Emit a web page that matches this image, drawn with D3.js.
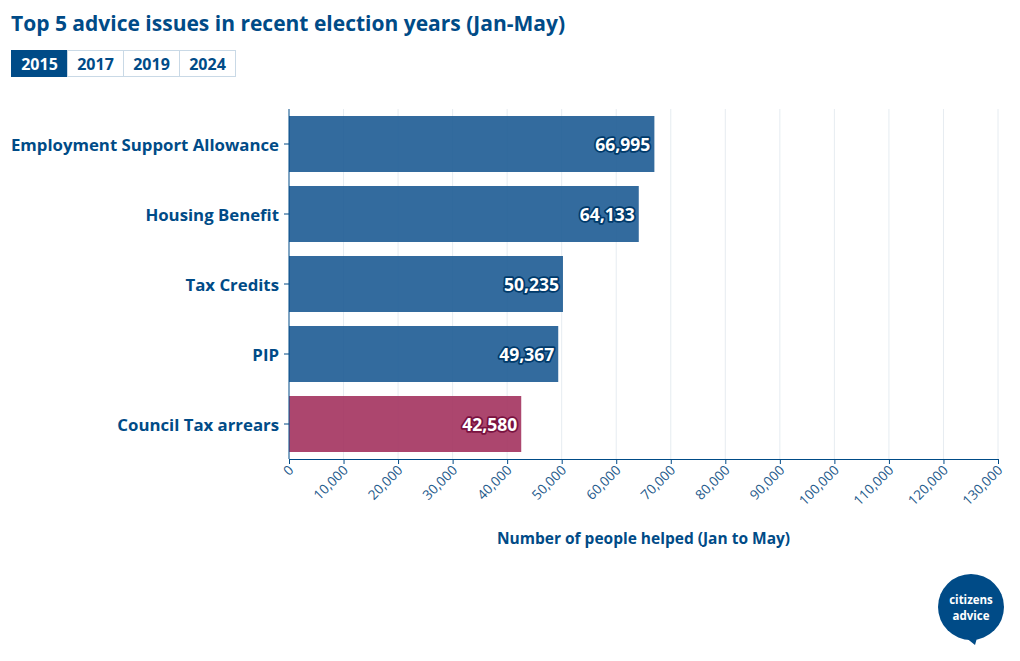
<!DOCTYPE html>
<html><head><meta charset="utf-8">
<script src="https://cdn.jsdelivr.net/npm/d3@7"></script>
<style>
body{margin:0;background:#fff;font-family:"Open Sans",sans-serif;}
</style></head>
<body><svg id="c" width="1020" height="661"></svg>
<script>
const categories = ["Employment Support Allowance","Housing Benefit","Tax Credits","PIP","Council Tax arrears"];
const values = [66995, 64133, 50235, 49367, 42580];
const highlight = [false,false,false,false,true];
const years = ["2015","2017","2019","2024"];
const tickValues = d3.range(0, 130001, 10000);

const navy = "#004b87";
const svg = d3.select("#c");
svg.append("text").attr("x",11).attr("y",31).attr("fill",navy)
  .attr("font-size",21).attr("font-weight",700).text("Top 5 advice issues in recent election years (Jan-May)");

// year buttons
const btnX = [11, 67, 123, 179], btnW = [56,56,56,56];
const bg = svg.append("g");
years.forEach((y,i)=>{
  bg.append("rect").attr("x",btnX[i]+0.5).attr("y",50.5).attr("width",btnW[i]).attr("height",26)
    .attr("fill", i===0?navy:"#fff").attr("stroke", i===0?navy:"#c9d9e6");
  bg.append("text").attr("x",btnX[i]+btnW[i]/2+0.5).attr("y",69.5).attr("text-anchor","middle")
    .attr("font-size",16).attr("font-weight",700).attr("fill", i===0?"#fff":navy).text(y);
});

const m = {left:289, right:998, top:109, bottom:459};
const x = d3.scaleLinear().domain([0,130000]).range([m.left,m.right]);
const y = d3.scaleBand().domain(categories).range([m.top,m.bottom]).paddingInner(0.2).paddingOuter(0.1);

// gridlines
svg.append("g").selectAll("line").data(tickValues.slice(1)).join("line")
  .attr("x1",d=>x(d)).attr("x2",d=>x(d)).attr("y1",m.top).attr("y2",m.bottom)
  .attr("stroke","#e6ecf1").attr("stroke-width",1);

// bars
svg.append("g").selectAll("rect").data(categories).join("rect")
  .attr("x",x(0)).attr("y",d=>y(d)).attr("height",y.bandwidth())
  .attr("width",(d,i)=>x(values[i])-x(0))
  .attr("fill",(d,i)=>highlight[i]?"#a3325e":"#1d5b94").attr("fill-opacity",0.9);

// value labels
const fmt = d3.format(",");
const lab = svg.append("g");
categories.forEach((c,i)=>{
  const tx = x(values[i])-4, ty = y(c)+y.bandwidth()/2+7;
  lab.append("text").attr("x",tx).attr("y",ty).attr("text-anchor","end")
    .attr("font-size",17.5).attr("font-weight",700).text(fmt(values[i]))
    .attr("fill","none").attr("stroke",highlight[i]?"#7a1240":"#003a6b")
    .attr("stroke-width",3.5).attr("stroke-linejoin","round");
  lab.append("text").attr("x",tx).attr("y",ty).attr("text-anchor","end")
    .attr("font-size",17.5).attr("font-weight",700).attr("fill","#fff").text(fmt(values[i]));
});

// y axis
const ya = svg.append("g").attr("transform",`translate(${m.left},0)`).call(d3.axisLeft(y).tickSize(5).tickPadding(5));
ya.select(".domain").attr("stroke",navy).attr("d",`M-0,${m.top}V${m.bottom}`);
ya.selectAll(".tick line").attr("stroke",navy);
ya.selectAll("text").attr("fill",navy).attr("font-size",16.8).attr("font-weight",700).attr("font-family","Open Sans").attr("dy","0.4em");

// x axis
const xa = svg.append("g").attr("transform",`translate(0,${m.bottom})`)
  .call(d3.axisBottom(x).tickValues(tickValues).tickFormat(fmt).tickSize(5).tickSizeOuter(0));
xa.select(".domain").attr("stroke",navy);
xa.selectAll(".tick line").attr("stroke",navy);
xa.selectAll("text").attr("fill","#1f5b8c").attr("font-size",13.5).attr("font-family","Open Sans")
  .attr("text-anchor","end").attr("dy",null).attr("y",0)
  .attr("transform","translate(5,12) rotate(-45)");

svg.append("text").attr("x",(m.left+m.right)/2).attr("y",544).attr("text-anchor","middle")
  .attr("fill",navy).attr("font-size",15.5).attr("font-weight",700).text("Number of people helped (Jan to May)");

// logo
const lg = svg.append("g").attr("transform","translate(971,607)");
lg.append("circle").attr("r",33).attr("fill",navy);
lg.append("path").attr("d","M-6,30 L4,38 L6,31 Z").attr("fill",navy);
lg.append("text").attr("y",-3).attr("text-anchor","middle").attr("fill","#fff").attr("font-size",11.5).attr("font-weight",700).text("citizens");
lg.append("text").attr("y",13).attr("text-anchor","middle").attr("fill","#fff").attr("font-size",11.5).attr("font-weight",700).text("advice");
</script></body></html>
